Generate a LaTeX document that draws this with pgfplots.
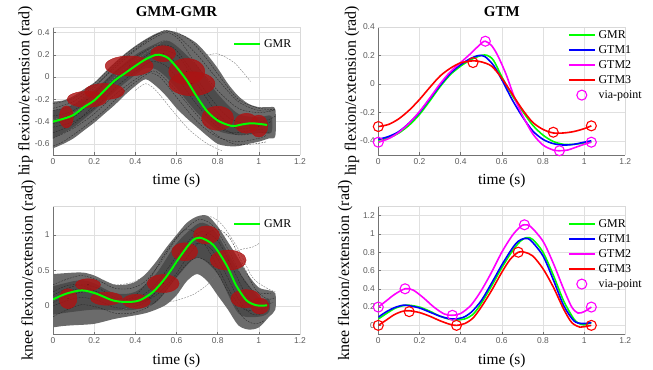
\documentclass[border=0pt]{standalone}
\usepackage{fontspec}
\setmainfont{Liberation Serif}
\setsansfont{Liberation Sans}
\usepackage{pgfplots}
\pgfplotsset{compat=1.18}
\definecolor{gmrgreen}{rgb}{0,1,0}
\definecolor{gtmblue}{rgb}{0,0,1}
\definecolor{gtmmag}{rgb}{1,0,1}
\definecolor{gtmred}{rgb}{1,0,0}
\definecolor{ellred}{rgb}{0.68,0.08,0.08}
\definecolor{tickgray}{rgb}{0.36,0.36,0.36}
\definecolor{gridgray}{rgb}{0.88,0.88,0.88}
\pgfplotsset{
  myaxis/.style={
    scale only axis, width=247bp, height=128bp,
    xmin=0, xmax=1.2, xtick={0,0.2,0.4,0.6,0.8,1,1.2},
    axis x line*=bottom, axis y line*=left,
    axis line style={black!55, line width=0.5bp},
    tick style={black!55, line width=0.5bp},
    tick align=inside, major tick length=2.5bp,
    grid=major, major grid style={gridgray, line width=0.5bp},
    clip mode=individual,
    /pgf/number format/assume math mode=true,
    /pgf/number format/fixed,
    ticklabel style={font=\sffamily\fontsize{8.5}{10}\selectfont, text=tickgray},
    xlabel={time (s)},
    xlabel style={at={(axis description cs:0.5,0)}, anchor=base, yshift=-29.5bp, font=\fontsize{15.5}{18}\selectfont},
    title style={at={(axis description cs:0.5,1)}, anchor=base, yshift=4.5bp, font=\bfseries\fontsize{15}{18}\selectfont},
    legend style={draw=none, fill=none, inner sep=0pt, outer sep=0pt, font=\fontsize{12}{14}\selectfont,
      nodes={inner sep=0pt, text height=8.5bp, text depth=2.5bp}, row sep=4bp,
      /tikz/every odd column/.append style={column sep=3bp}},
    legend cell align=left,
  },
  traj/.style={forget plot, smooth, black!85, line width=0.35bp, dash pattern=on 1.8bp off 1.2bp},
  trajo/.style={forget plot, smooth, black!55, line width=0.35bp, dash pattern=on 1.8bp off 1.2bp},
  ells/.style={forget plot, scatter, only marks, mark=*, mark size=0.01bp, mark options={draw=none, fill=none},
    visualization depends on={\thisrow{rx} \as \elrx},
    visualization depends on={\thisrow{ry} \as \elry},
    visualization depends on={\thisrow{ang} \as \elang},
    scatter/@pre marker code/.code={\fill[ellred, fill opacity=0.82, rotate=\elang] (0bp,0bp) ellipse [x radius=\elrx bp, y radius=\elry bp];},
    scatter/@post marker code/.code={}},
}
\begin{document}
\begin{tikzpicture}
\useasboundingbox (0,0) rectangle (653bp,370bp);

% ---------------- top left: GMM-GMR hip ----------------
\begin{axis}[myaxis, at={(53bp,215bp)}, anchor=south west,
  ymin=-0.7, ymax=0.45, ytick={-0.6,-0.4,-0.2,0,0.2,0.4},
  title={GMM-GMR}, ylabel={hip flexion/extension (rad)},
  ylabel style={at={(axis description cs:-0.096,0.5)}, anchor=base, font=\fontsize{16}{19}\selectfont},
  legend style={at={(axis description cs:0.729,0.91)}, anchor=north west},
  legend image code/.code={\draw[#1] (0bp,0bp) -- (26bp,0bp);}]
\addplot[forget plot, smooth, draw=none, fill=black!58] coordinates {
 (0,-0.22) (0.05,-0.21) (0.1,-0.17) (0.15,-0.11) (0.2,-0.05) (0.25,0.04) (0.3,0.13) (0.35,0.21) (0.4,0.28) (0.45,0.34) (0.5,0.39) (0.55,0.42) (0.6,0.4) (0.65,0.36) (0.7,0.3) (0.75,0.2) (0.8,0.08) (0.85,-0.06) (0.9,-0.17) (0.95,-0.24) (1.0,-0.27) (1.05,-0.27) (1.08,-0.29)
 (1.08,-0.53) (1.05,-0.55) (1.0,-0.58) (0.95,-0.6) (0.9,-0.62) (0.85,-0.62) (0.8,-0.6) (0.75,-0.53) (0.7,-0.45) (0.65,-0.37) (0.6,-0.28) (0.55,-0.17) (0.5,-0.08) (0.45,-0.02) (0.4,-0.08) (0.35,-0.16) (0.3,-0.25) (0.25,-0.33) (0.2,-0.41) (0.15,-0.48) (0.1,-0.55) (0.05,-0.6) (0,-0.64)} -- cycle;
\addplot[forget plot, smooth, draw=none, fill=black!70] coordinates {
 (0,-0.3) (0.1,-0.25) (0.2,-0.12) (0.3,0.05) (0.4,0.2) (0.5,0.3) (0.55,0.33) (0.6,0.28) (0.7,0.1) (0.8,-0.15) (0.9,-0.33) (1.0,-0.36) (1.06,-0.35)
 (1.06,-0.5) (1.0,-0.5) (0.9,-0.52) (0.8,-0.48) (0.7,-0.32) (0.6,-0.1) (0.55,0.0) (0.5,0.07) (0.45,0.08) (0.4,0.02) (0.3,-0.13) (0.2,-0.3) (0.1,-0.45) (0,-0.55)} -- cycle;
\addplot[traj] coordinates {(0,-0.28) (0.1,-0.22) (0.2,-0.08) (0.3,0.08) (0.4,0.24) (0.5,0.36) (0.56,0.40) (0.62,0.32) (0.7,0.10) (0.8,-0.12) (0.9,-0.28) (1.0,-0.32) (1.07,-0.30)};
\addplot[traj] coordinates {(0,-0.55) (0.1,-0.46) (0.2,-0.33) (0.3,-0.16) (0.4,-0.02) (0.46,0.04) (0.52,0.0) (0.6,-0.18) (0.7,-0.40) (0.8,-0.54) (0.9,-0.58) (1.0,-0.55) (1.04,-0.52)};
\addplot[traj] coordinates {(0,-0.35) (0.1,-0.3) (0.2,-0.15) (0.3,0.04) (0.4,0.18) (0.5,0.28) (0.58,0.27) (0.65,0.12) (0.75,-0.15) (0.85,-0.36) (0.95,-0.42) (1.05,-0.38) (1.08,-0.35)};
\addplot[traj] coordinates {(0,-0.45) (0.1,-0.40) (0.2,-0.28) (0.3,-0.10) (0.4,0.05) (0.48,0.14) (0.55,0.10) (0.62,-0.05) (0.7,-0.25) (0.8,-0.45) (0.88,-0.50) (0.96,-0.48) (1.02,-0.47)};
\addplot[trajo] coordinates {(0,-0.38) (0.1,-0.32) (0.2,-0.18) (0.3,0.0) (0.4,0.15) (0.5,0.28) (0.55,0.33) (0.62,0.3) (0.7,0.22) (0.76,0.2) (0.8,0.21) (0.88,0.13) (0.96,-0.04)};
\addplot[traj] coordinates {(0,-0.62) (0.05,-0.58) (0.15,-0.45) (0.25,-0.3) (0.35,-0.12) (0.45,0.02) (0.5,0.05) (0.58,-0.08) (0.68,-0.3) (0.78,-0.5) (0.88,-0.6) (0.98,-0.6) (1.04,-0.58)};
\addplot[traj] coordinates {(0,-0.3) (0.1,-0.25) (0.2,-0.1) (0.3,0.1) (0.4,0.25) (0.5,0.38) (0.55,0.42) (0.6,0.38) (0.7,0.2) (0.8,-0.02) (0.9,-0.22) (1.0,-0.3) (1.08,-0.3)};
\addplot[traj] coordinates {(0,-0.5) (0.1,-0.42) (0.2,-0.25) (0.3,-0.05) (0.4,0.1) (0.5,0.2) (0.56,0.2) (0.62,0.05) (0.72,-0.25) (0.82,-0.45) (0.9,-0.52) (1.0,-0.5) (1.05,-0.5)};
\addplot[traj] coordinates {(0,-0.42) (0.1,-0.36) (0.2,-0.2) (0.3,-0.02) (0.4,0.12) (0.5,0.24) (0.6,0.2) (0.68,0.0) (0.78,-0.28) (0.88,-0.45) (0.98,-0.45) (1.06,-0.4)};
\addplot[traj] coordinates {(0,-0.24) (0.1,-0.19) (0.2,-0.06) (0.3,0.12) (0.4,0.27) (0.5,0.38) (0.58,0.41) (0.66,0.34) (0.74,0.18) (0.82,-0.02) (0.9,-0.2) (1.0,-0.28) (1.08,-0.29)};
\addplot[trajo] coordinates {(0.4,-0.12) (0.45,-0.06) (0.5,-0.12) (0.58,-0.3) (0.66,-0.47) (0.75,-0.6) (0.82,-0.66)};
\addplot[ells] table {
x y rx ry ang
0.065 -0.358 7 11 0
0.165 -0.20 20 8 40
0.25 -0.13 20 8 35
0.37 0.10 24 10 30
0.535 0.21 12.5 8 8
0.65 0.05 18 13 -60
0.675 -0.06 23 12 -58
0.80 -0.37 16 12 -25
0.94 -0.415 12 10 0
1.0 -0.44 9 11 0
};
\addplot[gmrgreen, line width=2bp, smooth] coordinates {
 (0,-0.40) (0.05,-0.375) (0.1,-0.34) (0.15,-0.27) (0.2,-0.21) (0.25,-0.12) (0.3,-0.03) (0.35,0.035) (0.4,0.1) (0.45,0.16) (0.5,0.2) (0.53,0.195) (0.56,0.17) (0.6,0.09) (0.65,-0.03) (0.7,-0.18) (0.75,-0.31) (0.8,-0.39) (0.85,-0.43) (0.88,-0.44) (0.92,-0.425) (0.96,-0.415) (1.0,-0.42) (1.04,-0.43)};
\addlegendentry{GMR}
\draw[black!15, line width=0.5bp] (rel axis cs:0,1) -- (rel axis cs:1,1) -- (rel axis cs:1,0);
\end{axis}

% ---------------- top right: GTM hip ----------------
\begin{axis}[myaxis, at={(378.3bp,215bp)}, anchor=south west,
  ymin=-0.5, ymax=0.4, ytick={-0.4,-0.2,0,0.2,0.4},
  title={GTM}, ylabel={hip flexion/extension (rad)},
  ylabel style={at={(axis description cs:-0.091,0.5)}, anchor=base, font=\fontsize{16}{19}\selectfont},
  legend style={at={(axis description cs:0.768,0.98)}, anchor=north west},
  legend image code/.code={\draw[#1] (0bp,0bp) -- (26bp,0bp);}]
\addplot[gmrgreen, line width=1.6bp, smooth] coordinates {
 (0,-0.395) (0.05,-0.38) (0.1,-0.345) (0.15,-0.29) (0.2,-0.215) (0.25,-0.12) (0.3,-0.02) (0.35,0.065) (0.4,0.125) (0.45,0.17) (0.5,0.2) (0.53,0.2) (0.56,0.165) (0.6,0.05) (0.65,-0.08) (0.7,-0.19) (0.75,-0.29) (0.8,-0.36) (0.85,-0.405) (0.9,-0.425) (0.95,-0.425) (1.0,-0.415) (1.035,-0.405)};
\addlegendentry{GMR}
\addplot[gtmblue, line width=1.6bp, smooth] coordinates {
 (0,-0.39) (0.05,-0.37) (0.1,-0.335) (0.15,-0.275) (0.2,-0.2) (0.25,-0.105) (0.3,-0.01) (0.35,0.075) (0.4,0.135) (0.45,0.18) (0.49,0.2) (0.52,0.19) (0.56,0.13) (0.6,0.03) (0.65,-0.11) (0.7,-0.23) (0.75,-0.33) (0.8,-0.39) (0.85,-0.42) (0.9,-0.43) (0.95,-0.425) (1.0,-0.41) (1.035,-0.40)};
\addlegendentry{GTM1}
\addplot[gtmmag, line width=1.6bp, smooth] coordinates {
 (0,-0.41) (0.05,-0.385) (0.1,-0.34) (0.15,-0.275) (0.2,-0.195) (0.25,-0.1) (0.3,0.0) (0.35,0.085) (0.4,0.15) (0.45,0.215) (0.5,0.285) (0.52,0.3) (0.55,0.27) (0.58,0.2) (0.62,0.07) (0.66,-0.09) (0.7,-0.22) (0.75,-0.35) (0.8,-0.43) (0.85,-0.465) (0.88,-0.47) (0.92,-0.465) (0.97,-0.44) (1.0,-0.425) (1.035,-0.41)};
\addlegendentry{GTM2}
\addplot[gtmred, line width=1.6bp, smooth] coordinates {
 (0,-0.3) (0.05,-0.285) (0.1,-0.245) (0.15,-0.185) (0.2,-0.11) (0.25,-0.025) (0.3,0.055) (0.35,0.11) (0.4,0.148) (0.46,0.162) (0.5,0.155) (0.55,0.125) (0.6,0.04) (0.65,-0.07) (0.7,-0.18) (0.75,-0.27) (0.8,-0.32) (0.85,-0.345) (0.9,-0.345) (0.95,-0.335) (1.0,-0.315) (1.035,-0.295)};
\addlegendentry{GTM3}
\addplot[forget plot, only marks, mark=o, mark size=5bp, gtmred, mark options={line width=1.1bp}] coordinates {(0,-0.3) (0.46,0.15) (0.85,-0.34) (1.035,-0.295)};
\addplot[forget plot, only marks, mark=o, mark size=5bp, gtmmag, mark options={line width=1.1bp}] coordinates {(0,-0.41) (0.52,0.3) (0.88,-0.47) (1.035,-0.41)};
\addlegendimage{legend image code/.code={\draw[gtmmag, line width=1.1bp] (13bp,0bp) circle (5bp);}}
\addlegendentry{via-point}
\draw[black!15, line width=0.5bp] (rel axis cs:0,1) -- (rel axis cs:1,1) -- (rel axis cs:1,0);
\end{axis}

% ---------------- bottom left: GMM-GMR knee ----------------
\begin{axis}[myaxis, at={(53bp,35.5bp)}, anchor=south west,
  ymin=-0.4, ymax=1.4, ytick={0,0.5,1},
  ylabel={knee flexion/extension (rad)},
  ylabel style={at={(axis description cs:-0.083,0.5)}, anchor=base, font=\fontsize{16}{19}\selectfont},
  legend style={at={(axis description cs:0.729,0.906)}, anchor=north west},
  legend image code/.code={\draw[#1] (0bp,0bp) -- (26bp,0bp);}]
\addplot[forget plot, smooth, draw=none, fill=black!58] coordinates {
 (0,0.45) (0.1,0.47) (0.15,0.47) (0.2,0.43) (0.25,0.36) (0.3,0.3) (0.35,0.3) (0.4,0.34) (0.45,0.45) (0.5,0.62) (0.55,0.82) (0.6,1.0) (0.65,1.17) (0.7,1.26) (0.75,1.27) (0.8,1.12) (0.85,0.9) (0.9,0.67) (0.95,0.43) (1.0,0.26) (1.05,0.22) (1.08,0.18)
 (1.08,-0.05) (1.05,-0.15) (1.0,-0.3) (0.95,-0.33) (0.9,-0.27) (0.85,-0.05) (0.8,0.15) (0.75,0.35) (0.7,0.45) (0.65,0.35) (0.6,0.15) (0.55,0.02) (0.5,-0.05) (0.45,-0.1) (0.4,-0.13) (0.3,-0.18) (0.2,-0.25) (0.1,-0.27) (0.05,-0.28) (0,-0.3)} -- cycle;
\addplot[forget plot, smooth, draw=none, fill=black!70] coordinates {
 (0,0.28) (0.1,0.35) (0.15,0.36) (0.2,0.32) (0.3,0.18) (0.4,0.2) (0.5,0.45) (0.6,0.88) (0.7,1.15) (0.75,1.15) (0.8,1.0) (0.9,0.5) (1.0,0.12) (1.05,0.1)
 (1.05,-0.08) (1.0,-0.15) (0.9,-0.1) (0.8,0.45) (0.7,0.68) (0.6,0.4) (0.5,0.05) (0.4,-0.05) (0.3,-0.06) (0.2,-0.05) (0.1,-0.08) (0,-0.12)} -- cycle;
\addplot[traj] coordinates {(0,0.3) (0.07,0.38) (0.14,0.43) (0.22,0.36) (0.3,0.25) (0.38,0.25) (0.45,0.35) (0.52,0.6) (0.6,0.95) (0.67,1.15) (0.72,1.22) (0.78,1.12) (0.85,0.8) (0.92,0.4) (0.98,0.2) (1.06,0.18)};
\addplot[traj] coordinates {(0,-0.15) (0.07,-0.05) (0.14,0.02) (0.22,-0.02) (0.3,-0.1) (0.38,-0.1) (0.46,-0.02) (0.53,0.15) (0.6,0.42) (0.66,0.62) (0.71,0.68) (0.78,0.55) (0.85,0.2) (0.92,-0.15) (0.98,-0.25) (1.03,-0.2)};
\addplot[traj] coordinates {(0,0.15) (0.07,0.25) (0.14,0.3) (0.22,0.25) (0.3,0.12) (0.38,0.1) (0.45,0.18) (0.52,0.38) (0.6,0.7) (0.67,0.95) (0.73,1.05) (0.8,0.92) (0.87,0.55) (0.94,0.15) (1.0,0.02) (1.07,0.05)};
\addplot[traj] coordinates {(0,0.0) (0.07,0.08) (0.14,0.12) (0.22,0.08) (0.3,-0.02) (0.38,-0.02) (0.46,0.08) (0.53,0.3) (0.6,0.6) (0.66,0.82) (0.71,0.88) (0.77,0.8) (0.84,0.45) (0.91,0.05) (0.97,-0.12) (1.02,-0.1)};
\addplot[traj] coordinates {(0,0.05) (0.08,0.15) (0.16,0.2) (0.25,0.15) (0.33,0.05) (0.42,0.05) (0.5,0.15) (0.58,0.38) (0.66,0.72) (0.74,1.0) (0.8,1.08) (0.86,0.95) (0.92,0.6) (0.98,0.25) (1.04,0.1) (1.08,0.12)};
\addplot[traj] coordinates {(0,0.2) (0.06,0.28) (0.12,0.3) (0.2,0.22) (0.27,0.1) (0.34,0.08) (0.4,0.15) (0.47,0.38) (0.54,0.72) (0.61,1.0) (0.66,1.08) (0.72,0.95) (0.8,0.55) (0.87,0.15) (0.93,-0.05) (0.98,-0.05)};
\addplot[trajo] coordinates {(0.3,-0.12) (0.36,-0.03) (0.45,0.0) (0.53,0.04) (0.6,0.08) (0.68,0.16) (0.75,0.3) (0.8,0.45)};
\addplot[trajo] coordinates {(0,0.4) (0.1,0.45) (0.2,0.4) (0.3,0.3) (0.4,0.35) (0.5,0.55) (0.6,0.9) (0.7,1.2) (0.76,1.26) (0.82,1.15) (0.9,0.8) (0.97,0.4) (1.04,0.25) (1.08,0.2)};
\addplot[traj] coordinates {(0,0.1) (0.07,0.2) (0.14,0.25) (0.22,0.2) (0.3,0.08) (0.38,0.03) (0.46,0.1) (0.53,0.3) (0.6,0.62) (0.68,0.92) (0.74,0.95) (0.8,0.8) (0.87,0.42) (0.94,0.05) (1.0,-0.05) (1.05,0.0)};
\addplot[trajo] coordinates {(0.8,0.68) (0.86,0.75) (0.92,0.8) (0.97,0.83) (1.0,0.88)};
\addplot[ells] table {
x y rx ry ang
0.073 0.104 9 10 0
0.17 0.30 12.5 6 -5
0.26 0.104 16 6.5 -8
0.405 0.066 14 7 0
0.535 0.316 16 9 50
0.64 0.764 13 9 60
0.746 1.0 13 9 -15
0.851 0.646 18 10 -60
0.937 0.104 15 9 -70
1.005 0.0 9 8 0
};
\addplot[gmrgreen, line width=2bp, smooth] coordinates {
 (0,0.094) (0.065,0.175) (0.14,0.22) (0.21,0.175) (0.29,0.08) (0.357,0.057) (0.42,0.08) (0.486,0.2) (0.55,0.41) (0.616,0.69) (0.673,0.906) (0.713,0.962) (0.778,0.86) (0.843,0.575) (0.89,0.29) (0.94,0.08) (0.99,0.01) (1.04,0.01)};
\addlegendentry{GMR}
\draw[black!15, line width=0.5bp] (rel axis cs:0,1) -- (rel axis cs:1,1) -- (rel axis cs:1,0);
\end{axis}

% ---------------- bottom right: GTM knee ----------------
\begin{axis}[myaxis, at={(378.3bp,35.5bp)}, anchor=south west,
  ymin=-0.1, ymax=1.3, ytick={0,0.2,0.4,0.6,0.8,1,1.2},
  ylabel={knee flexion/extension (rad)},
  ylabel style={at={(axis description cs:-0.118,0.5)}, anchor=base, font=\fontsize{16}{19}\selectfont},
  legend style={at={(axis description cs:0.768,0.906)}, anchor=north west},
  legend image code/.code={\draw[#1] (0bp,0bp) -- (26bp,0bp);}]
\addplot[gmrgreen, line width=1.6bp, smooth] coordinates {
 (0,0.07) (0.04,0.13) (0.08,0.185) (0.12,0.215) (0.15,0.22) (0.2,0.2) (0.25,0.155) (0.3,0.1) (0.35,0.065) (0.38,0.06) (0.42,0.07) (0.46,0.12) (0.5,0.24) (0.55,0.43) (0.6,0.63) (0.65,0.81) (0.69,0.92) (0.72,0.96) (0.75,0.94) (0.8,0.8) (0.85,0.55) (0.9,0.27) (0.95,0.07) (0.98,0.015) (1.0,0.005) (1.035,0.03)};
\addlegendentry{GMR}
\addplot[gtmblue, line width=1.6bp, smooth] coordinates {
 (0,0.09) (0.04,0.15) (0.08,0.195) (0.12,0.22) (0.15,0.215) (0.2,0.19) (0.25,0.145) (0.3,0.1) (0.34,0.075) (0.37,0.07) (0.41,0.085) (0.45,0.14) (0.5,0.27) (0.55,0.46) (0.6,0.66) (0.65,0.84) (0.68,0.92) (0.71,0.95) (0.74,0.93) (0.8,0.76) (0.85,0.5) (0.9,0.22) (0.95,0.05) (0.99,0.02) (1.035,0.03)};
\addlegendentry{GTM1}
\addplot[gtmmag, line width=1.6bp, smooth] coordinates {
 (0,0.2) (0.04,0.27) (0.08,0.34) (0.13,0.4) (0.17,0.385) (0.22,0.3) (0.27,0.2) (0.32,0.125) (0.36,0.11) (0.4,0.13) (0.45,0.22) (0.5,0.38) (0.55,0.58) (0.6,0.8) (0.65,0.98) (0.69,1.08) (0.71,1.1) (0.74,1.08) (0.8,0.92) (0.85,0.68) (0.9,0.4) (0.94,0.2) (0.97,0.135) (1.0,0.15) (1.035,0.2)};
\addlegendentry{GTM2}
\addplot[gtmred, line width=1.6bp, smooth] coordinates {
 (0,0.0) (0.04,0.06) (0.08,0.12) (0.12,0.155) (0.15,0.16) (0.2,0.14) (0.25,0.1) (0.3,0.05) (0.35,0.01) (0.38,0.0) (0.42,0.02) (0.46,0.08) (0.5,0.2) (0.55,0.38) (0.6,0.58) (0.64,0.72) (0.68,0.8) (0.71,0.8) (0.75,0.76) (0.8,0.62) (0.85,0.42) (0.9,0.18) (0.94,0.03) (0.98,-0.02) (1.0,-0.015) (1.035,0.0)};
\addlegendentry{GTM3}
\addplot[forget plot, only marks, mark=o, mark size=5bp, gtmred, mark options={line width=1.1bp}] coordinates {(0,0.0) (0.15,0.15) (0.38,0.0) (0.68,0.8) (1.035,0.0)};
\addplot[forget plot, only marks, mark=o, mark size=5bp, gtmmag, mark options={line width=1.1bp}] coordinates {(0,0.2) (0.13,0.4) (0.36,0.11) (0.71,1.1) (1.035,0.2)};
\addlegendimage{legend image code/.code={\draw[gtmmag, line width=1.1bp] (13bp,0bp) circle (5bp);}}
\addlegendentry{via-point}
\draw[black!15, line width=0.5bp] (rel axis cs:0,1) -- (rel axis cs:1,1) -- (rel axis cs:1,0);
\end{axis}
\end{tikzpicture}
\end{document}
